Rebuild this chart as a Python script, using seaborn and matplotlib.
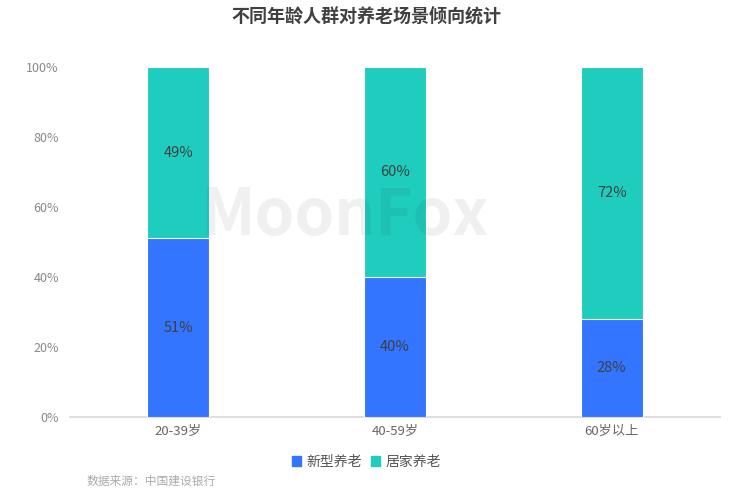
import matplotlib
matplotlib.use('Agg')
import matplotlib.pyplot as plt
import seaborn as sns
import pandas as pd
from matplotlib.patches import Patch

# data
age_groups = ['20-39岁', '40-59岁', '60岁以上']
new_type = [51, 40, 28]
home_care = [49, 60, 72]
series_names = ['新型养老', '居家养老']
colors = ['#3375FF', '#1FCDBE']

sns.set_theme(style='white')
plt.rcParams['font.family'] = ['Noto Sans CJK SC', 'DejaVu Sans']

df = pd.DataFrame({'age': age_groups, 'new': new_type, 'home': home_care})
df['total'] = df['new'] + df['home']

fig = plt.figure(figsize=(7.33, 4.92), dpi=100)
ax = fig.add_axes([70 / 733, 1 - 417 / 492, 650 / 733, 350 / 492])

sns.barplot(data=df, x='age', y='total', color=colors[1], width=0.285,
            saturation=1, ax=ax, zorder=2)
sns.barplot(data=df, x='age', y='new', color=colors[0], width=0.285,
            saturation=1, ax=ax, zorder=3)
for p in ax.patches:
    p.set_edgecolor('white')
    p.set_linewidth(0.8)

for i in range(len(age_groups)):
    ax.text(i, new_type[i] / 2, f'{new_type[i]}%', ha='center', va='center',
            fontsize=10.5, color='#404040', zorder=4)
    ax.text(i, new_type[i] + home_care[i] / 2, f'{home_care[i]}%', ha='center',
            va='center', fontsize=10.5, color='#404040', zorder=4)

ax.set_ylim(0, 100)
ax.set_yticks(range(0, 101, 20))
ax.set_yticklabels([f'{v}%' for v in range(0, 101, 20)], fontsize=9, color='#888888')
ax.tick_params(axis='x', labelsize=9.5, labelcolor='#666666', length=0, pad=6)
ax.tick_params(axis='y', length=0, pad=8)
ax.set_xlabel('')
ax.set_ylabel('')
sns.despine(ax=ax, left=True)
ax.spines['bottom'].set_color('#d9d9d9')

# watermark
fig.text(0.47, 0.56, 'MoonFox', ha='center', va='center', fontsize=46,
         fontweight='bold', color='black', alpha=0.06, zorder=10)

fig.suptitle('不同年龄人群对养老场景倾向统计', x=0.5, y=0.985, fontsize=13,
             fontweight='bold', color='#404040')

handles = [Patch(color=c, label=n) for c, n in zip(colors, series_names)]
fig.legend(handles=handles, loc='center', bbox_to_anchor=(0.5, 1 - 462 / 492),
           ncol=2, frameon=False, fontsize=10, handlelength=0.7, handleheight=0.7,
           handletextpad=0.4, columnspacing=0.6, labelcolor='#555555')

fig.text(87 / 733, 1 - 481 / 492, '数据来源：中国建设银行', fontsize=8.5,
         color='#aaaaaa', va='center')

fig.savefig('out.png', dpi=100)
